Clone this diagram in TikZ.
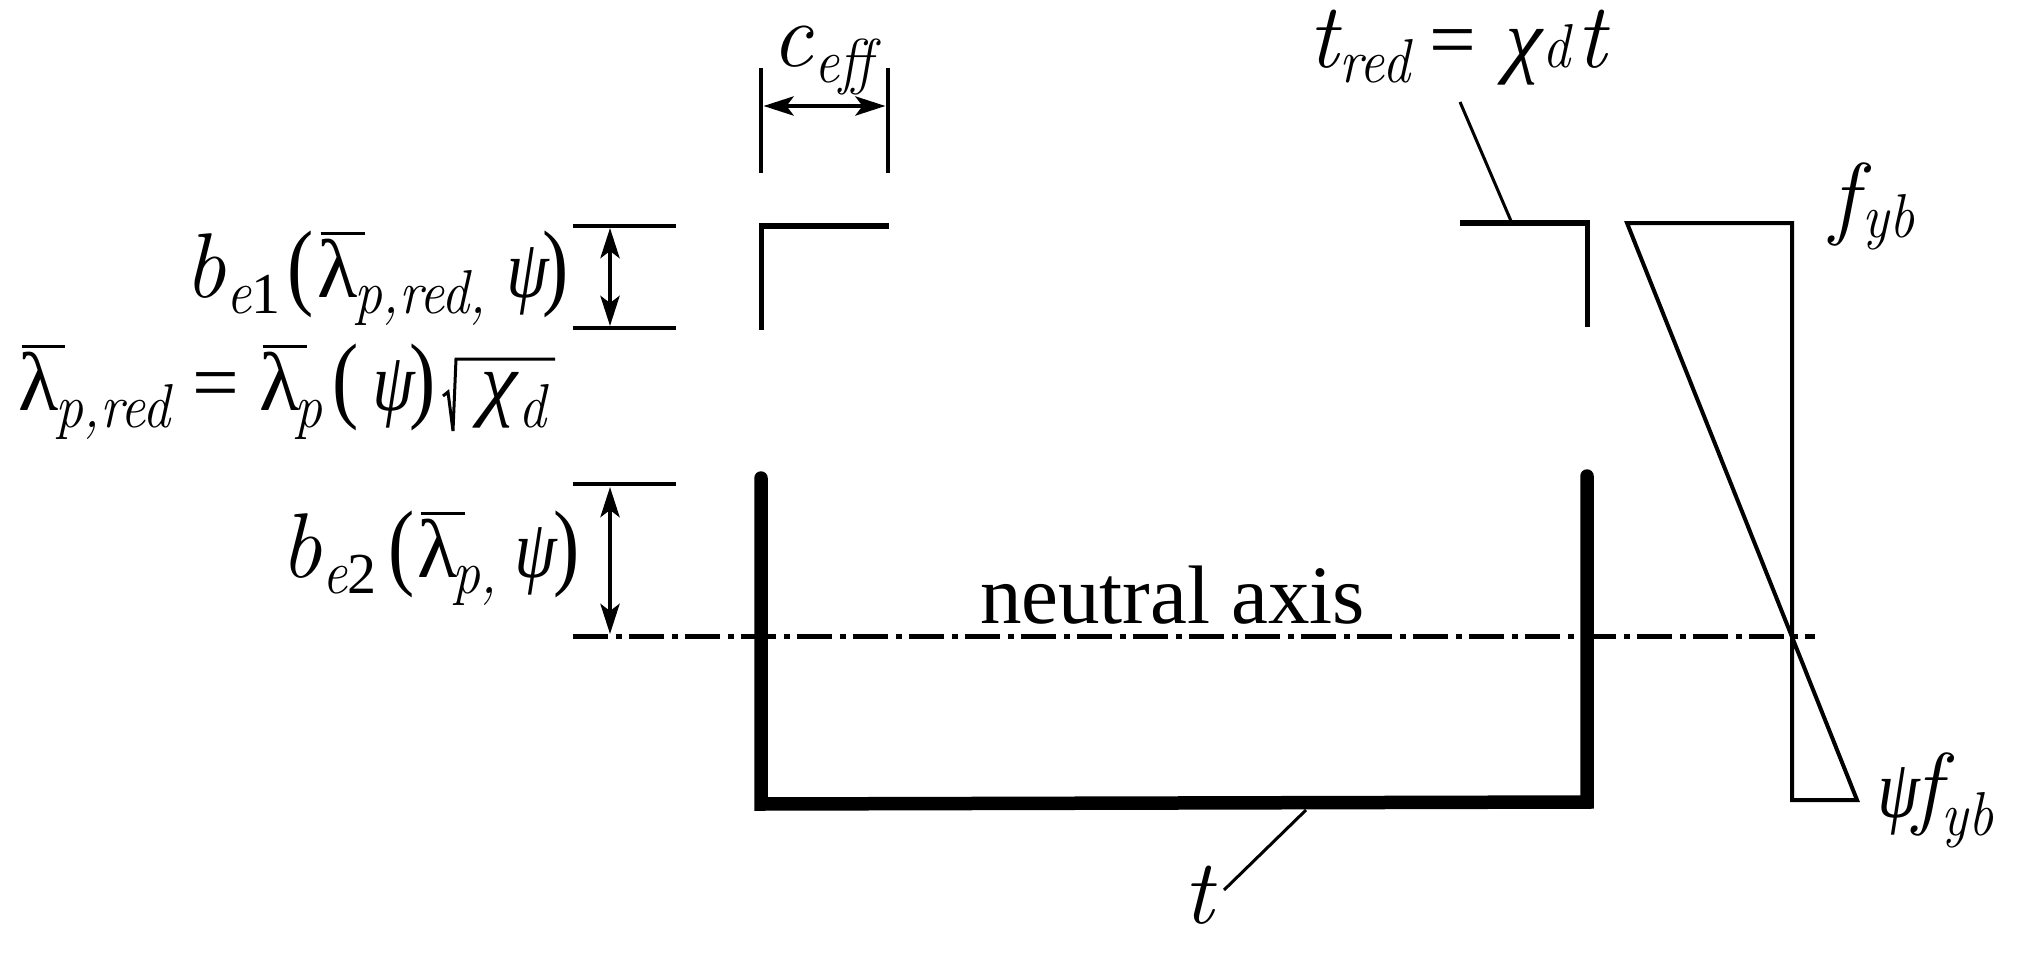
\documentclass[tikz,border=0pt]{standalone}
\usepackage{fontspec}
\usepackage{graphicx}
\newfontfamily\uprt{Liberation Serif}
\newfontfamily\gkit{Liberation Serif}[FakeSlant=0.2]
\usetikzlibrary{arrows.meta}
\newcommand\atx[2]{\rlap{\hspace*{#1pt}#2}}
\newcommand\mi[1]{{\fontsize{92}{92}\selectfont\itshape #1}}
\newcommand\subt[2][16]{\raisebox{-#1pt}{\scalebox{.9}[1]{\fontsize{62}{62}\selectfont\itshape #2}}}
\newcommand\subd[2][16]{\raisebox{-#1pt}{\fontsize{58}{58}\selectfont\uprt #2}}
\newcommand\bigp[1]{\scalebox{.82}[1]{\fontsize{96}{96}\selectfont\uprt #1}}
\newcommand\psib{\scalebox{.78}[1]{\gkit ψ}}
\newcommand\barlam{\rlap{\hspace*{3pt}\raisebox{62pt}{\rule{44pt}{3.5pt}}}{\uprt λ}}
\tikzset{
  lab/.style={inner sep=0pt,outer sep=0pt,anchor=base west,font=\fontsize{83}{83}\selectfont},
  thinl/.style={line width=3.6pt},
  medl/.style={line width=5pt},
  flange/.style={line width=6pt,line join=miter},
  heavy/.style={line width=13.5pt,line join=miter,line cap=round},
  dim/.style={line width=4.6pt,{Stealth[length=30pt,width=19pt,inset=7pt]}-{Stealth[length=30pt,width=19pt,inset=7pt]}},
  axisl/.style={line width=5pt,dash pattern=on 35pt off 8pt on 6pt off 7pt}
}
\begin{document}
\begin{tikzpicture}[x=1pt,y=-1pt]
\useasboundingbox (0,0) rectangle (2017,955);
% section
\coordinate (ltop) at (761,330);
\coordinate (lend) at (889,226);
\coordinate (rtop) at (1587,327);
\coordinate (rend) at (1460,223);
\draw[medl] (ltop) -- (761,229);
\draw[flange] (758.5,226) -- (lend);
\draw[medl] (rtop) -- (1587,220);
\draw[flange] (1589.5,223) -- (rend);
\coordinate (wl) at (761,478);
\coordinate (bl) at (761,804);
\coordinate (br) at (1587,802);
\coordinate (wr) at (1587,476);
\draw[heavy] (wl) -- (bl) -- (br) -- (wr);
% dims
\coordinate (c1a) at (761,68); \coordinate (c1b) at (761,173);
\coordinate (c2a) at (888,68); \coordinate (c2b) at (888,173);
\draw[thinl] (c1a) -- (c1b);
\draw[thinl] (c2a) -- (c2b);
\coordinate (ca) at (763.5,106); \coordinate (cb) at (885.5,106);
\draw[dim] (ca) -- (cb);
\coordinate (e1a) at (572.5,226); \coordinate (e1b) at (676,226);
\coordinate (e2a) at (572.5,328); \coordinate (e2b) at (676,328);
\coordinate (e3a) at (572.5,484); \coordinate (e3b) at (676,484);
\draw[thinl] (e1a) -- (e1b);
\draw[thinl] (e2a) -- (e2b);
\draw[thinl] (e3a) -- (e3b);
\coordinate (d1a) at (610,228); \coordinate (d1b) at (610,326);
\coordinate (d2a) at (610,487); \coordinate (d2b) at (610,634);
\draw[dim] (d1a) -- (d1b);
\draw[dim] (d2a) -- (d2b);
% neutral axis
\coordinate (na) at (572.5,636); \coordinate (nb) at (1815,636);
\draw[axisl] (na) -- (nb);
% stress
\coordinate (s1) at (1627,223); \coordinate (s2) at (1792,223);
\coordinate (s3) at (1792,800); \coordinate (s4) at (1857,800);
\draw[line width=4pt,line join=miter] (s1) -- (s2) -- (s3) -- (s4) -- cycle;
% leaders
\coordinate (l1) at (1460,102); \coordinate (l2) at (1511,221);
\draw[line width=3pt] (l1) -- (l2);
\coordinate (l3) at (1306,810); \coordinate (l4) at (1224,890);
\draw[line width=3pt] (l3) -- (l4);
% sqrt
\coordinate (q0) at (443,396); \coordinate (q1) at (448,392);
\coordinate (q2) at (453,431); \coordinate (q3) at (456,359); \coordinate (q4) at (555,359);
\draw[line width=3pt,line join=miter] (q0) -- (q1) -- (q2) -- (q3) -- (q4);
% labels
\node[lab] (tna) at (980,623) {\uprt neutral axis};
\node[lab] (tc) at (771,67) {\atx{0}{\mi{c}}\atx{43}{\subt{eff}}};
\node[lab] (ttr) at (1308,68) {\atx{0}{\mi{t}}\atx{31}{\subt[15]{red}}\atx{121}{\uprt =}\atx{193}{\gkit χ}\atx{234}{\subt[0]{d}}\atx{268}{\mi{t}}};
\node[lab] (tf) at (1830,227) {\atx{0}{\mi{f}}\atx{32}{\subt[10]{yb}}};
\node[lab] (tp) at (1875,817) {\atx{0}{\psib}\atx{38}{\mi{f}}\atx{66}{\subt[18]{yb}}};
\node[lab] (tt) at (1183,923) {\mi{t}};
\node[lab] (tb1) at (184,297) {\atx{0}{\mi{b}}\atx{42}{\subt{e}\subd{1}}\atx{103}{\bigp{(}}\atx{133}{\barlam}\atx{170}{\subt{p,red,}}\atx{320}{\psib}\atx{358}{\bigp{)}}};
\node[lab] (tl) at (18,410) {\atx{0}{\barlam}\atx{37}{\subt[17]{p,red}}\atx{174}{\uprt =}\atx{241}{\barlam}\atx{276}{\subt[17]{p}}\atx{314}{\bigp{(}}\atx{352}{\psib}\atx{391}{\bigp{)}}\atx{458}{\gkit χ}\atx{500}{\subt[17]{d}}};
\node[lab] (tb2) at (280,577) {\atx{0}{\mi{b}}\atx{42}{\subt{e}\subd{2}}\atx{108}{\bigp{(}}\atx{137}{\barlam}\atx{172}{\subt{p,}}\atx{232}{\psib}\atx{273}{\bigp{)}}};
\end{tikzpicture}
\end{document}
